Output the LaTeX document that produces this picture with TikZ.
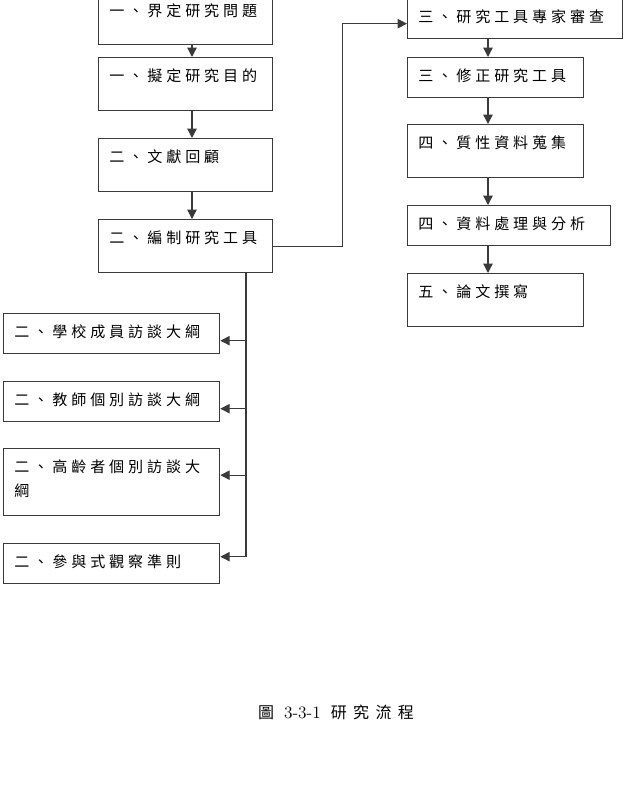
\documentclass[tikz,border=0pt]{standalone}
\usepackage{fontspec}
\usetikzlibrary{arrows.meta,positioning,calc}
\newfontfamily\cjk[LetterSpace=26]{Noto Sans CJK TC}
\newfontfamily\capcjk[LetterSpace=40]{Noto Sans CJK TC}
\definecolor{flowgrey}{HTML}{3A3A3A}
\newcommand\boxfont{\cjk\fontsize{11.3}{18}\selectfont}
\tikzset{
  >={Triangle[length=7pt,width=7pt]},
  font=\boxfont,
  box/.style={draw=flowgrey,line width=1pt,anchor=north west,inner xsep=8pt,
              inner ysep=0pt,text width=#1,align=left,
              text height=18pt,text depth=12pt},
  tall/.style={text depth=21.75pt},
  flow/.style={->,line width=1pt,draw=flowgrey},
}

\begin{document}
\begin{tikzpicture}[x=0.75pt,y=-0.75pt]
  \useasboundingbox (0,0) rectangle (625,810);

  % left column: steps one and two
  \node[box=114.5pt,tall,text depth=21pt] (b1) at (98,-8)  {一、界定研究問題};
  \node[box=114.5pt,tall] (b2) at (98,57)  {一、擬定研究目的};
  \node[box=114.5pt,tall] (b3) at (98,138) {二、文獻回顧};
  \node[box=114.5pt,tall] (b4) at (98,219) {二、編制研究工具};

  % right column: steps three to five
  \node[box=145.25pt] (r1) at (407,-2)  {三、研究工具專家審查};
  \node[box=116pt]    (r2) at (407,57)  {三、修正研究工具};
  \node[box=116pt,tall] (r3) at (407,124) {四、質性資料蒐集};
  \node[box=136.25pt] (r4) at (407,205) {四、資料處理與分析};
  \node[box=116pt,tall] (r5) at (407,273) {五、論文撰寫};

  % instruments
  \node[box=146pt] (l1) at (3,313) {二、學校成員訪談大綱};
  \node[box=146pt] (l2) at (3,381) {二、教師個別訪談大綱};
  \node[box=146pt,text depth=32.25pt] (l3) at (3,448) {二、高齡者個別訪談大\\綱};
  \node[box=146pt] (l4) at (3,543) {二、參與式觀察準則};

  \draw[flow] ($(b1.south west)+(94,0)$) -- ($(b2.north west)+(94,0)$);
  \draw[flow] ($(b2.south west)+(94,0)$) -- ($(b3.north west)+(94,0)$);
  \draw[flow] ($(b3.south west)+(94,0)$) -- ($(b4.north west)+(94,0)$);
  \draw[flow] (b4.east) -- ++(69,0) |- ($(r1.west)+(0,5)$);

  \draw[flow] ($(r1.south west)+(81,0)$) -- ($(r2.north west)+(81,0)$);
  \draw[flow] ($(r2.south west)+(81,0)$) -- ($(r3.north west)+(81,0)$);
  \draw[flow] ($(r3.south west)+(81,0)$) -- ($(r4.north west)+(81,0)$);
  \draw[flow] ($(r4.south west)+(81,0)$) -- ($(r5.north west)+(81,0)$);

  \coordinate (spine) at ($(b4.south west)+(148,0)$);
  \draw[flow] (spine) |- ($(l1.east)+(0,7)$);
  \draw[flow] (spine) |- ($(l2.east)+(0,7)$);
  \draw[flow] (spine) |- ($(l3.east)+(0,-7)$);
  \draw[flow] (spine) |- ($(l4.east)+(0,-7)$);

  \node (cap) at (336,712)
    {\capcjk\fontsize{12}{14}\selectfont 圖 {\rmfamily\fontsize{13}{14}\selectfont 3-3-1} 研究流程};
\end{tikzpicture}
\end{document}
